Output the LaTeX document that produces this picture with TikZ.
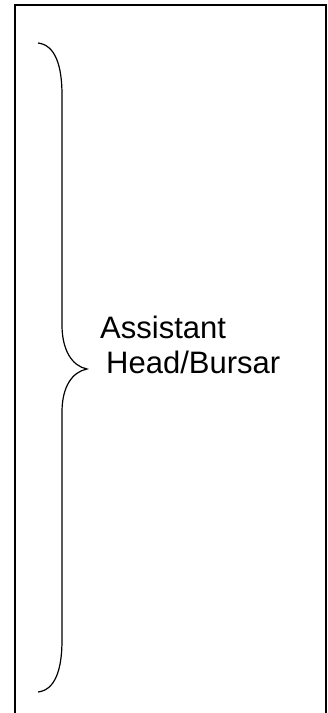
\documentclass[tikz,border=0pt]{standalone}
\usepackage{fontspec}
\setmainfont{Liberation Sans}

\begin{document}
\begin{tikzpicture}[x=1pt,y=-1pt,
    brace/.style={line width=1.2pt,black},
    label/.style={anchor=base west,inner sep=0pt,font=\fontsize{31}{35}\selectfont}]
    \clip (0,0) rectangle (328,713);
    \fill [white] (0,0) rectangle (328,713);
    \draw [line width=2pt,black] (15,5) rectangle (326,740);
    \draw [brace] (38,43) .. controls (55,45) and (62,65) .. (62,95) -- (62,325)
        .. controls (62,350) and (72,366) .. (87,369)
        .. controls (72,372) and (62,387) .. (62,412) -- (62,640)
        .. controls (62,670) and (55,690) .. (38,692);
    \node [label] (assistant) at (100,338) {Assistant};
    \node [label] (bursar) at (106,373) {Head/Bursar};
\end{tikzpicture}
\end{document}
